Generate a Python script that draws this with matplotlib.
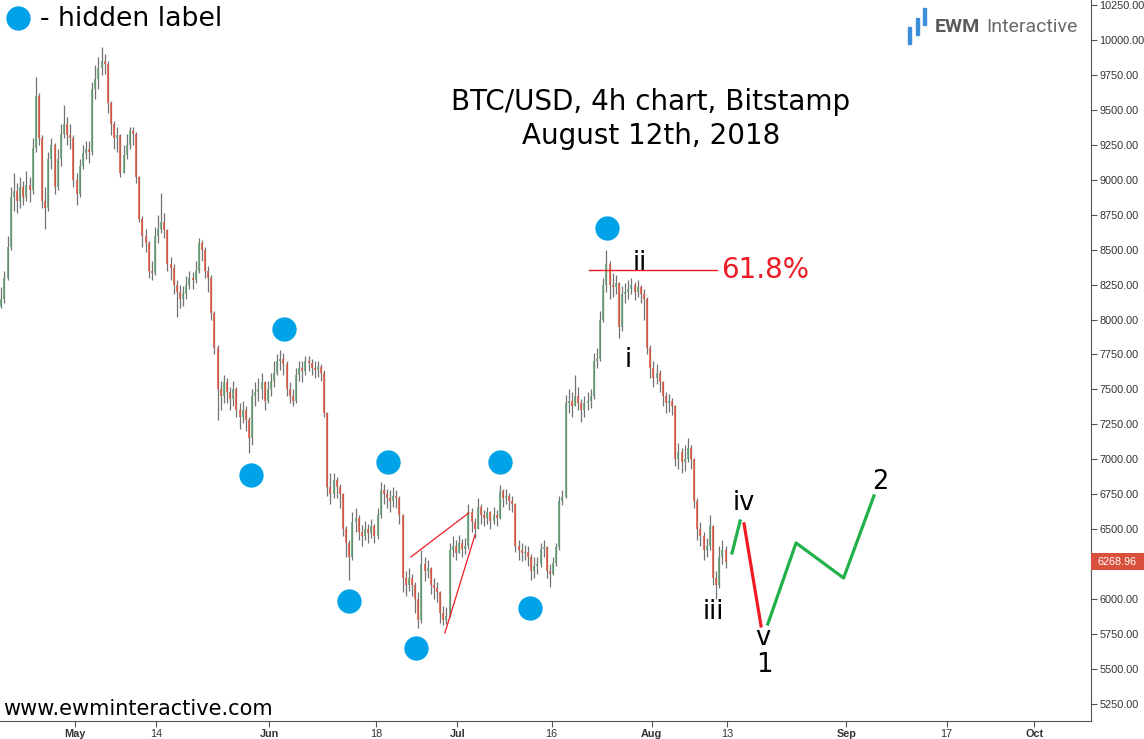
import matplotlib
matplotlib.use("Agg")
import matplotlib.pyplot as plt
import matplotlib.dates as mdates
import matplotlib.transforms as mtransforms
from matplotlib.patches import Rectangle
import numpy as np
import pandas as pd

first_open = 8100
closes = [
    8150, 8300, 8520, 8880, 8920, 8850, 8950, 8880, 8960, 8930,
    9230, 9600, 9300, 8850, 8800, 9150, 9250, 8950, 9150, 9330,
    9400, 9320, 9300, 9000, 8900, 9100, 9190, 9220, 9200, 9650,
    9720, 9800, 9850, 9830, 9550, 9400, 9300, 9320, 9050, 9180,
    9250, 9350, 9330, 9020, 8720, 8600, 8550, 8350, 8330, 8600,
    8650, 8700, 8640, 8400, 8370, 8250, 8200, 8150, 8180, 8250,
    8300, 8280, 8350, 8550, 8500, 8350, 8300, 8050, 7800, 7500,
    7450, 7550, 7480, 7430, 7500, 7350, 7300, 7350, 7280, 7150,
    7450, 7480, 7500, 7550, 7420, 7500, 7560, 7620, 7700, 7720,
    7680, 7500, 7450, 7420, 7600, 7650, 7630, 7700, 7690, 7650,
    7640, 7660, 7620, 7330, 6800, 6750, 6850, 6800, 6750, 6500,
    6400, 6300, 6550, 6580, 6480, 6450, 6500, 6470, 6520, 6450,
    6600, 6780, 6750, 6720, 6700, 6740, 6720, 6600, 6150, 6100,
    6150, 6100, 6000, 5850, 6250, 6200, 6220, 6100, 6080, 6050,
    5900, 5850, 5880, 6350, 6380, 6330, 6400, 6360, 6380, 6620,
    6550, 6500, 6660, 6600, 6580, 6620, 6560, 6600, 6580, 6770,
    6720, 6740, 6700, 6680, 6380, 6350, 6330, 6340, 6300, 6200,
    6240, 6250, 6360, 6370, 6200, 6180, 6260, 6370, 6700, 6730,
    7400, 7420, 7380, 7450, 7400, 7350, 7400, 7420, 7450, 7700,
    7720, 8000, 8250, 8400, 8250, 8230, 8260, 7950, 8180, 8200,
    8220, 8250, 8200, 8230, 8180, 8150, 7800, 7650, 7580, 7620,
    7550, 7450, 7400, 7420, 7380, 7000, 7050, 6980, 7000, 7080,
    7000, 6700, 6500, 6450, 6350, 6380, 6520, 6150, 6100, 6300,
    6350, 6268.96,
]
highs = [
    8230, 8350, 8600, 8950, 9050, 8980, 9020, 8990, 9060, 9020,
    9300, 9735, 9620, 9320, 8950, 9200, 9300, 9260, 9220, 9400,
    9535, 9450, 9400, 9320, 9050, 9150, 9250, 9280, 9280, 9700,
    9820, 9880, 9950, 9900, 9850, 9560, 9420, 9380, 9330, 9250,
    9330, 9380, 9380, 9340, 9030, 8740, 8650, 8560, 8420, 8660,
    8750, 8905, 8760, 8650, 8450, 8400, 8280, 8250, 8240, 8310,
    8350, 8340, 8420, 8583, 8570, 8520, 8380, 8320, 8060, 7820,
    7560, 7600, 7580, 7520, 7560, 7520, 7400, 7420, 7380, 7300,
    7500, 7550, 7580, 7620, 7560, 7560, 7620, 7700, 7750, 7782,
    7760, 7700, 7550, 7500, 7650, 7700, 7700, 7740, 7740, 7720,
    7700, 7700, 7680, 7640, 7340, 6900, 6900, 6870, 6820, 6760,
    6520, 6420, 6620, 6650, 6600, 6530, 6560, 6540, 6570, 6540,
    6650, 6838, 6820, 6790, 6780, 6800, 6780, 6740, 6610, 6200,
    6220, 6180, 6120, 6050, 6351, 6300, 6280, 6230, 6150, 6120,
    6060, 5950, 5940, 6400, 6450, 6420, 6460, 6430, 6440, 6680,
    6650, 6580, 6720, 6680, 6640, 6660, 6630, 6660, 6640, 6816,
    6790, 6790, 6760, 6740, 6690, 6420, 6400, 6390, 6380, 6320,
    6300, 6300, 6400, 6420, 6380, 6250, 6300, 6400, 6740, 6780,
    7460, 7500, 7480, 7603, 7520, 7430, 7450, 7480, 7500, 7760,
    7800, 8060, 8300, 8497, 8420, 8330, 8320, 8270, 8240, 8260,
    8280, 8297, 8270, 8280, 8250, 8220, 8160, 7820, 7700, 7680,
    7640, 7560, 7480, 7470, 7440, 7390, 7120, 7080, 7100, 7153,
    7100, 7010, 6720, 6550, 6480, 6440, 6600, 6530, 6200, 6380,
    6420, 6380,
]
lows = [
    8080, 8120, 8280, 8500, 8780, 8760, 8800, 8820, 8850, 8840,
    8900, 9200, 9250, 8800, 8650, 8780, 9080, 8900, 8930, 9100,
    9300, 9250, 9220, 8950, 8820, 8880, 9080, 9150, 9120, 9180,
    9580, 9650, 9750, 9760, 9480, 9320, 9220, 9200, 9020, 9050,
    9150, 9220, 9250, 8980, 8700, 8520, 8480, 8300, 8280, 8320,
    8550, 8620, 8580, 8350, 8280, 8180, 8018, 8080, 8100, 8150,
    8220, 8220, 8260, 8330, 8420, 8300, 8200, 8000, 7750, 7281,
    7350, 7400, 7400, 7350, 7380, 7300, 7220, 7260, 7200, 7045,
    7100, 7380, 7420, 7430, 7350, 7400, 7450, 7520, 7600, 7640,
    7600, 7450, 7400, 7380, 7400, 7560, 7550, 7600, 7630, 7600,
    7580, 7590, 7560, 7300, 6740, 6680, 6720, 6720, 6650, 6450,
    6300, 6137, 6280, 6480, 6420, 6380, 6420, 6400, 6440, 6400,
    6430, 6580, 6680, 6650, 6620, 6660, 6650, 6540, 6050, 6020,
    6060, 6020, 5900, 5793, 5830, 6130, 6150, 6040, 6000, 5980,
    5830, 5815, 5820, 5870, 6300, 6280, 6330, 6300, 6320, 6360,
    6480, 6440, 6500, 6540, 6520, 6540, 6500, 6540, 6520, 6570,
    6660, 6680, 6640, 6620, 6340, 6280, 6270, 6280, 6240, 6137,
    6150, 6180, 6230, 6300, 6150, 6087, 6170, 6240, 6350, 6670,
    6720, 7330, 7300, 7380, 7350, 7267, 7300, 7350, 7370, 7430,
    7650, 7700, 7980, 8200, 8150, 8160, 8180, 7870, 7920, 8120,
    8150, 8180, 8140, 8160, 8120, 8000, 7750, 7580, 7520, 7540,
    7480, 7380, 7330, 7340, 7320, 6950, 6930, 6900, 6920, 6980,
    6930, 6650, 6420, 6380, 6280, 6300, 6350, 6100, 6000, 6080,
    6250, 6220,
]

# blue "hidden label" dots (time, price)
hidden_times = ["2018-06-03 07:00", "2018-05-29 02:00", "2018-06-19 22:00", "2018-07-07 19:00",
                "2018-06-13 17:00", "2018-07-12 14:00", "2018-06-24 10:00", "2018-07-24 20:00"]
hidden_prices = [7932, 6888, 6981, 6981, 5987, 5937, 5651, 8655]

# red triangle lines
tri_upper_t = ["2018-06-23 14:00", "2018-07-02 19:00"]
tri_upper_p = [6302, 6616]
tri_lower_t = ["2018-06-29 00:00", "2018-07-03 19:00"]
tri_lower_p = [5758, 6459]

# 61.8% retracement
fib_level = 8354
fib_t = ["2018-07-22 00:00", "2018-08-11 10:00"]

# projected path
proj_iv_t = ["2018-08-13 19:00", "2018-08-15 02:00"]
proj_iv_p = [6330, 6559]
proj_v_t = ["2018-08-15 17:00", "2018-08-18 10:00"]
proj_v_p = [6538, 5808]
proj_2_t = ["2018-08-19 12:00", "2018-08-24 00:00", "2018-08-31 14:00", "2018-09-05 10:00"]
proj_2_p = [5822, 6402, 6151, 6738]

wave_labels = ["ii", "i", "iii", "iv", "v", "1", "2"]
wave_t = ["2018-07-30 02:00", "2018-07-28 06:00", "2018-08-10 19:00", "2018-08-15 17:00",
          "2018-08-18 17:00", "2018-08-19 00:00", "2018-09-06 12:00"]
wave_p = [8405, 7711, 5908, 6690, 5720, 5530, 6838]

tick_dates = ["2018-05-01", "2018-05-14", "2018-06-01", "2018-06-18", "2018-07-01", "2018-07-16",
              "2018-08-01", "2018-08-13", "2018-09-01", "2018-09-17", "2018-10-01"]
tick_labels = ["May", "14", "Jun", "18", "Jul", "16", "Aug", "13", "Sep", "17", "Oct"]
price_ticks = np.arange(5250, 10251, 250)

BLUE = "#00a2e8"
GREEN = "#22b04a"
RED = "#ed1c24"
FONT = "DejaVu Sans"


def tnum(ts):
    return mdates.date2num(pd.to_datetime(ts))


fig = plt.figure(figsize=(11.44, 7.39), dpi=100)
ax = fig.add_axes([0.0, 1 - 721 / 739, 1091 / 1144, 721 / 739])

times = mdates.date2num(pd.date_range("2018-04-19 06:00", periods=len(closes), freq="12h"))
c = np.array(closes, float)
o = np.concatenate([[first_open], c[:-1]])
up = c >= o
ax.vlines(times, lows, highs, color="#737373", lw=0.9, zorder=2)
ax.vlines(times, o, c, colors=np.where(up, "#5e9e72", "#e0533b"), lw=1.1, zorder=3)

ax.plot(tnum(hidden_times), hidden_prices, "o", ms=17.5, color=BLUE, mec="none", zorder=5)

ax.plot(tnum(tri_upper_t), tri_upper_p, color=RED, lw=0.9, zorder=4)
ax.plot(tnum(tri_lower_t), tri_lower_p, color=RED, lw=0.9, zorder=4)

ax.plot(tnum(fib_t), [fib_level, fib_level], color=RED, lw=1.0, zorder=4)
ax.text(tnum("2018-08-12 00:00"), fib_level, "61.8%", color=RED, fontsize=20,
        family=FONT, ha="left", va="center")

ax.plot(tnum(proj_iv_t), proj_iv_p, color=GREEN, lw=2.3, zorder=4)
ax.plot(tnum(proj_v_t), proj_v_p, color=RED, lw=2.3, zorder=4)
ax.plot(tnum(proj_2_t), proj_2_p, color=GREEN, lw=2.3, zorder=4)

for lab, t, p in zip(wave_labels, wave_t, wave_p):
    ax.text(tnum(t), p, lab, fontsize=18.5, family=FONT, ha="center", va="center",
            color="black", zorder=6)

ax.set_xlim(tnum("2018-04-19 01:00"), tnum("2018-10-10 01:00"))
ax.set_ylim(5128, 10286)

ax.spines[["top", "left"]].set_visible(False)
ax.spines[["right", "bottom"]].set_color("#555555")
ax.yaxis.tick_right()
ax.set_yticks(price_ticks)
# the 6250 label sits under the last-price tag
ax.set_yticklabels(["" if v == 6250 else f"{v:.2f}" for v in price_ticks])
ax.set_xticks(tnum(tick_dates))
ax.set_xticklabels(tick_labels)
ax.tick_params(axis="both", length=4, width=0.8, color="#555555", labelsize=7.8,
               labelcolor="#333333", pad=2)
for lbl in ax.get_xticklabels() + ax.get_yticklabels():
    lbl.set_family("Liberation Sans")
for lbl in ax.get_xticklabels():
    if not lbl.get_text().isdigit():
        lbl.set_fontweight("bold")

# last price tag
tr = mtransforms.blended_transform_factory(ax.transAxes, ax.transData)
ax.add_patch(Rectangle((1.0, closes[-1] - 64), 53 / 1091, 128, transform=tr,
                       fc="#d9503c", ec="none", clip_on=False, zorder=7))
ax.text(1 + 6 / 1091, closes[-1], f"{closes[-1]:.2f}", transform=tr, ha="left", va="center",
        color="white", fontsize=7.8, family="Liberation Sans", clip_on=False, zorder=8)

# title
fig.text(651 / 1144, 1 - 119 / 739, "BTC/USD, 4h chart, Bitstamp\nAugust 12th, 2018",
         ha="center", va="center", fontsize=20, family=FONT, linespacing=1.23)

# legend
ax.plot([18 / 1144], [1 - 18 / 739], "o", ms=17.5, color=BLUE, mec="none",
        transform=fig.transFigure, clip_on=False)
fig.text(40 / 1144, 1 - 19 / 739, "- hidden label", ha="left", va="center", fontsize=19.3,
         family=FONT)

fig.text(3 / 1144, 1 - 709 / 739, "www.ewminteractive.com", ha="left", va="center",
         fontsize=15, family=FONT)

# logo
for x0, y0 in [(908, 27), (916, 18), (923, 8)]:
    fig.add_artist(Rectangle((x0 / 1144, 1 - (y0 + 17) / 739), 3 / 1144, 17 / 739,
                             transform=fig.transFigure, color="#3d8fdc"))
fig.text(935 / 1144, 1 - 27 / 739, "EWM", ha="left", va="center", fontsize=14,
         fontweight="bold", family="Roboto", color="#5a5a5a")
fig.text(986 / 1144, 1 - 27 / 739, "Interactive", ha="left", va="center", fontsize=14,
         family="Roboto", color="#6a6a6a")

fig.savefig("out.png", dpi=100)
